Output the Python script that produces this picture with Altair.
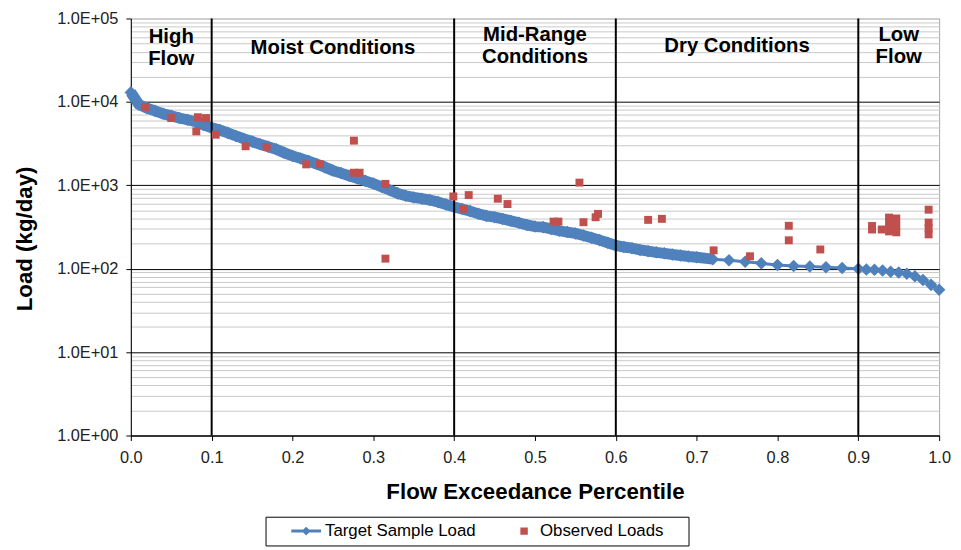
import altair as alt
import pandas as pd

# ---- data ----
target_x = [0.00, 0.01, 0.02, 0.03, 0.04, 0.05, 0.06, 0.07, 0.08, 0.09,
            0.10, 0.11, 0.12, 0.13, 0.14, 0.15, 0.16, 0.17, 0.18, 0.19,
            0.20, 0.21, 0.22, 0.23, 0.24, 0.25, 0.26, 0.27, 0.28, 0.29,
            0.30, 0.31, 0.32, 0.33, 0.34, 0.35, 0.36, 0.37, 0.38, 0.39,
            0.40, 0.41, 0.42, 0.43, 0.44, 0.45, 0.46, 0.47, 0.48, 0.49,
            0.50, 0.51, 0.52, 0.53, 0.54, 0.55, 0.56, 0.57, 0.58, 0.59,
            0.60, 0.61, 0.62, 0.63, 0.64, 0.65, 0.66, 0.67, 0.68, 0.69,
            0.70, 0.72, 0.74, 0.76, 0.78, 0.80, 0.82, 0.84, 0.86, 0.88,
            0.90, 0.91, 0.92, 0.93, 0.94, 0.95, 0.96, 0.97, 0.98, 0.99, 1.00]
target_load = [13000, 9300, 8400, 7800, 7200, 6800, 6400, 6100, 5800, 5300,
               4900, 4600, 4250, 3900, 3600, 3350, 3100, 2900, 2700, 2450,
               2250, 2100, 1950, 1800, 1650, 1500, 1400, 1300, 1210, 1130,
               1050, 960, 880, 800, 750, 715, 690, 665, 630, 590,
               550, 520, 490, 455, 430, 415, 395, 375, 355, 335,
               320, 315, 300, 285, 275, 265, 250, 235, 220, 205,
               190, 182, 176, 168, 162, 157, 153, 148, 144, 140,
               137, 130, 126, 121, 116, 111, 108, 106, 104, 102,
               100, 98, 97, 95, 92, 90, 87, 81, 73, 64, 56]
dense_limit = 0.72  # points are packed into a solid band up to here

obs_x = [0.018, 0.050, 0.081, 0.083, 0.093, 0.105, 0.142, 0.168, 0.217, 0.234,
         0.276, 0.276, 0.283, 0.315, 0.315, 0.399, 0.412, 0.418, 0.454, 0.466,
         0.523, 0.529, 0.555, 0.560, 0.575, 0.578, 0.640, 0.657, 0.721, 0.766,
         0.814, 0.814, 0.853,
         0.917, 0.917, 0.929, 0.938, 0.938, 0.938, 0.947, 0.947, 0.947,
         0.987, 0.987, 0.987, 0.987]
obs_load = [8700, 6400, 4430, 6550, 6400, 4040, 2940, 2880, 1780, 1790,
            3430, 1415, 1415, 1040, 132, 735, 520, 763, 690, 596,
            367, 367, 1077, 361, 414, 454, 385, 396, 166, 141,
            327, 219, 170,
            325, 295, 295, 410, 338, 280, 400, 325, 273,
            510, 357, 305, 258]

zone_bounds = [0.1, 0.4, 0.6, 0.9]
zone_names = ["High\nFlow", "Moist Conditions", "Mid-Range\nConditions",
              "Dry Conditions", "Low\nFlow"]
zone_centers = [0.05, 0.25, 0.5, 0.75, 0.95]
zone_label_load = [59500, 44000, 62800, 46500, 62800]

series_names = ["Target Sample Load", "Observed Loads"]
BLUE = "#4F81BD"
RED = "#C0504D"
FONT = "Liberation Sans"

target_df = pd.DataFrame({"x": target_x, "load": target_load})
obs_df = pd.DataFrame({"x": obs_x, "load": obs_load})
zone_df = pd.DataFrame({"x": zone_bounds})
label_df = pd.DataFrame({"x": zone_centers, "load": zone_label_load,
                         "name": zone_names})
legend_df = pd.DataFrame({"x": [target_x[0], obs_x[0]],
                          "load": [target_load[0], obs_load[0]],
                          "series": series_names})

y_ticks = [m * 10 ** k for k in range(5) for m in range(1, 10)] + [100000]
is_decade = "abs(log(datum.value)/LN10 - round(log(datum.value)/LN10)) < 0.001"

xs = alt.Scale(domain=[0, 1], nice=False, zero=False)
ys = alt.Scale(type="log", domain=[1, 100000], nice=False)

x_enc = alt.X("x:Q", scale=xs, axis=alt.Axis(
    values=[i / 10 for i in range(11)], format=".1f", grid=False,
    title="Flow Exceedance Percentile", labelFlush=False,
    tickSize=5, labelPadding=9, titlePadding=15,
    titleFontSize=22.5, titleFontWeight="bold"))
y_enc = alt.Y("load:Q", scale=ys, axis=alt.Axis(
    values=y_ticks,
    labelExpr=f"{is_decade} ? '1.0E+0' + round(log(datum.value)/LN10) : ''",
    labelOverlap=False,
    gridColor={"condition": {"test": f"{is_decade} && datum.value < 50000",
                             "value": "#000000"}, "value": "#c8c8c8"},
    tickOpacity={"condition": {"test": is_decade, "value": 1}, "value": 0},
    tickSize=5, labelPadding=8, title="Load (kg/day)", titlePadding=20,
    titleY=222, titleFontSize=22.5, titleFontWeight="bold"))

band = alt.Chart(target_df).transform_filter(
    alt.datum.x <= dense_limit).mark_line(color=BLUE, strokeWidth=11).encode(
    x=x_enc, y=y_enc)
line = alt.Chart(target_df).mark_line(color=BLUE, strokeWidth=3).encode(
    x="x:Q", y="load:Q")
diamonds = alt.Chart(target_df).mark_point(
    shape="diamond", filled=True, size=160, color=BLUE, opacity=1).encode(
    x="x:Q", y="load:Q")
rules = alt.Chart(zone_df).mark_rule(color="black", strokeWidth=2).encode(
    x="x:Q")
squares = alt.Chart(obs_df).mark_point(
    shape="square", filled=True, size=64, color=RED, opacity=1).encode(
    x="x:Q", y="load:Q")
labels = alt.Chart(label_df).mark_text(
    font=FONT, fontSize=20.5, fontWeight="bold", color="black",
    lineBreak="\n", lineHeight=22, align="center", baseline="middle").encode(
    x="x:Q", y="load:Q", text="name:N")

path_target = "M-1,-0.1L1,-0.1L1,0.1L-1,0.1Z M-0.3,0L0,-0.3L0.3,0L0,0.3Z"
path_square = "M-0.05,-0.25L0.45,-0.25L0.45,0.25L-0.05,0.25Z"
leg = alt.Legend(
    title="MM", titleOrient="right", titleOpacity=0, titleFontSize=10,
    titlePadding=2,
    orient="none", legendX=136, legendY=503,
    direction="horizontal", symbolSize=900, symbolOpacity=1,
    symbolStrokeWidth=0, symbolOffset=20, labelOffset=4, padding=6,
    clipHeight=17, strokeColor="black", fillColor="white",
    labelFont=FONT, labelFontSize=17, labelColor="#000000", labelLimit=300,
    columnPadding=10)
carrier = alt.Chart(legend_df).mark_point(filled=True, opacity=0).encode(
    x="x:Q", y="load:Q",
    color=alt.Color("series:N", scale=alt.Scale(domain=series_names,
                                                range=[BLUE, RED]), legend=leg),
    shape=alt.Shape("series:N", scale=alt.Scale(domain=series_names,
                                                range=[path_target, path_square]),
                    legend=leg))

chart = alt.layer(band, line, diamonds, rules, squares, labels, carrier).properties(
    width=816, height=421,
    autosize=alt.AutoSizeParams(type="none"),
    padding={"left": 124, "top": 8, "right": 14, "bottom": 113},
    background="white",
).configure_view(stroke="#a6a6a6", strokeWidth=1).configure_axis(
    labelFont=FONT, titleFont=FONT, labelFontSize=16.5, labelColor="#222222",
    titleColor="#000000", domainColor="#000000", tickColor="#000000",
    domainWidth=1, tickWidth=1, gridWidth=1)

chart.save("out.html", embed_options={"renderer": "svg", "actions": False})
